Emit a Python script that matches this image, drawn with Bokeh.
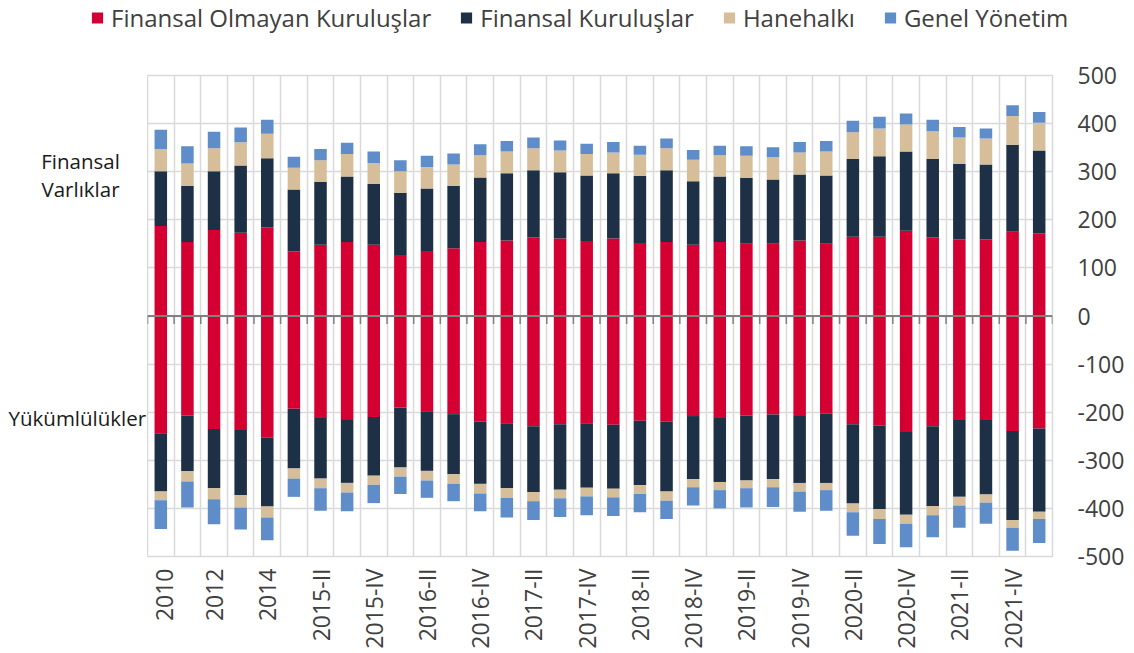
import math
from bokeh.plotting import figure
from bokeh.layouts import column, row
from bokeh.models import (Range1d, FixedTicker, Label, Legend, LegendItem,
                          ColumnDataSource, Span)
from bokeh.embed import file_html
from bokeh.resources import INLINE

periods = ["2010", "2011", "2012", "2013", "2014",
           "2015-I", "2015-II", "2015-III", "2015-IV",
           "2016-I", "2016-II", "2016-III", "2016-IV",
           "2017-I", "2017-II", "2017-III", "2017-IV",
           "2018-I", "2018-II", "2018-III", "2018-IV",
           "2019-I", "2019-II", "2019-III", "2019-IV",
           "2020-I", "2020-II", "2020-III", "2020-IV",
           "2021-I", "2021-II", "2021-III", "2021-IV",
           "2022-I"]

series_names = ["Finansal Olmayan Kuruluşlar", "Finansal Kuruluşlar", "Hanehalkı", "Genel Yönetim"]

# Financial assets (positive)
assets_nfc = [187, 154, 179, 173, 184, 134, 148, 154, 148, 127, 135, 141, 154, 157, 163, 161, 156,
              161, 152, 154, 148, 154, 150, 150, 157, 150, 165, 165, 177, 163, 159, 159, 175, 172]
assets_fin = [114, 117, 122, 140, 144, 129, 131, 136, 127, 129, 130, 130, 134, 140, 140, 138, 136,
              136, 139, 149, 132, 136, 137, 134, 137, 142, 162, 167, 165, 164, 157, 156, 181, 172]
assets_hh = [46, 46, 48, 48, 51, 45, 45, 47, 43, 45, 45, 44, 46, 45, 46, 45, 45,
             43, 44, 46, 45, 44, 46, 46, 46, 50, 55, 58, 56, 57, 55, 54, 60, 58]
assets_gov = [40, 36, 34, 31, 29, 23, 23, 23, 24, 23, 23, 23, 23, 22, 22, 21, 21,
              22, 19, 20, 20, 20, 20, 21, 22, 22, 24, 24, 23, 24, 22, 21, 22, 22]

# Liabilities (negative)
liab_nfc = [-244, -207, -235, -237, -253, -193, -212, -216, -210, -191, -198, -204, -220, -223, -229, -225, -223,
            -226, -218, -220, -208, -212, -207, -205, -208, -203, -225, -228, -241, -229, -216, -216, -239, -234]
liab_fin = [-121, -115, -123, -135, -143, -124, -126, -131, -122, -124, -124, -125, -129, -135, -137, -136, -134,
            -133, -134, -145, -131, -133, -135, -134, -139, -144, -165, -174, -172, -166, -160, -155, -185, -173]
liab_hh = [-18, -22, -23, -26, -23, -21, -20, -20, -19, -19, -20, -20, -20, -20, -19, -18, -18,
           -18, -18, -19, -17, -17, -16, -17, -18, -15, -18, -20, -19, -19, -18, -17, -16, -15]
liab_gov = [-60, -54, -52, -46, -47, -38, -47, -39, -38, -36, -36, -36, -37, -41, -39, -39, -39,
            -39, -38, -38, -38, -38, -40, -41, -42, -43, -49, -52, -49, -46, -46, -44, -48, -50]

y_ticks = [-500, -400, -300, -200, -100, 0, 100, 200, 300, 400, 500]
y_tick_labels = ["-500", "-400", "-300", "-200", "-100", "0", "100", "200", "300", "400", "500"]

colors = ["#D40032", "#1D3046", "#D6BE9A", "#5F8DC9"]
FONT = "Open Sans"
TXT = "#404040"
GRID = "#D9D9D9"

n = len(periods)
TOP_H = 34
FRAME_TOP = 41
FRAME_W = 905
FRAME_H = 481
LEFT_W = 147


def clean(fig):
    fig.background_fill_color = "white"
    fig.border_fill_color = "white"
    fig.outline_line_color = None
    fig.xgrid.visible = False
    fig.ygrid.visible = False


# ---------- legend strip ----------
top = figure(width=LEFT_W + FRAME_W + 75, height=TOP_H, x_range=Range1d(0, 1), y_range=Range1d(0, 1),
             x_axis_location=None, y_axis_location=None,
             output_backend="svg", toolbar_location=None,
             min_border_left=90, min_border_right=0, min_border_top=0, min_border_bottom=0)
clean(top)
# legend swatches (drawn outside the visible range, only used by the legend)
dummies = [top.vbar(x=[5], top=[5], bottom=[4], width=0.5, color=c, line_color=None) for c in colors]
legend = Legend(items=[LegendItem(label=nm, renderers=[r]) for nm, r in zip(series_names, dummies)],
                location="left", orientation="horizontal",
                glyph_width=14, glyph_height=14, label_standoff=7, spacing=28,
                padding=0, margin=0, border_line_color=None, background_fill_alpha=0,
                label_text_font=FONT, label_text_font_size="24px", label_text_color=TXT)
top.add_layout(legend)

# ---------- left annotation column ----------
left = figure(frame_width=LEFT_W, frame_height=FRAME_H, x_range=Range1d(0, LEFT_W), y_range=Range1d(-500, 500),
              x_axis_location=None, y_axis_location=None,
              output_backend="svg", toolbar_location=None,
              min_border_left=0, min_border_right=0, min_border_top=FRAME_TOP, min_border_bottom=0)
clean(left)
for txt, xx, yy, al in [("Finansal", 80, 323, "center"),
                        ("Varlıklar", 80, 265, "center"),
                        ("Yükümlülükler", 8, -213, "left")]:
    left.add_layout(Label(x=xx, y=yy, text=txt, text_font=FONT, text_font_size="20.5px",
                          text_color="#1a1a1a", text_align=al, text_baseline="middle"))

# ---------- main chart ----------
src = ColumnDataSource(dict(
    x=list(range(n)),
    a1=assets_nfc, a2=assets_fin, a3=assets_hh, a4=assets_gov,
    l1=liab_nfc, l2=liab_fin, l3=liab_hh, l4=liab_gov,
))

p = figure(frame_width=FRAME_W, frame_height=FRAME_H,
           x_range=Range1d(-0.5, n - 0.5), y_range=Range1d(-500, 500),
           y_axis_location="right", x_axis_location="below",
           output_backend="svg", toolbar_location=None,
           min_border_left=0, min_border_top=FRAME_TOP, min_border_right=0, min_border_bottom=0)
p.background_fill_color = "white"
p.border_fill_color = "white"
p.outline_line_color = GRID
p.outline_line_width = 1.5

p.vbar_stack(["a1", "a2", "a3", "a4"], x="x", width=0.47, color=colors, line_color=None, source=src)
p.vbar_stack(["l1", "l2", "l3", "l4"], x="x", width=0.47, color=colors, line_color=None, source=src)

bounds = [i - 0.5 for i in range(n + 1)]
p.xgrid.ticker = FixedTicker(ticks=bounds)
p.ygrid.ticker = FixedTicker(ticks=y_ticks)
for g in (p.xgrid[0], p.ygrid[0]):
    g.grid_line_color = GRID
    g.grid_line_width = 1.5

# zero line with separator ticks (8 px downward)
tick_len = 8 * 1000 / FRAME_H
p.segment(x0=bounds, y0=[0] * len(bounds), x1=bounds, y1=[-tick_len] * len(bounds),
          line_color="#808080", line_width=1.5)
p.add_layout(Span(location=0, dimension="width", line_color="#808080", line_width=2))

ya = p.yaxis[0]
ya.ticker = FixedTicker(ticks=y_ticks)
ya.major_label_overrides = dict(zip(y_ticks, y_tick_labels))
ya.axis_line_color = None
ya.major_tick_line_color = None
ya.minor_tick_line_color = None
ya.major_tick_out = 0
ya.major_tick_in = 0
ya.major_label_standoff = 25
ya.major_label_text_font = FONT
ya.major_label_text_font_size = "23px"
ya.major_label_text_color = TXT

xa = p.xaxis[0]
label_ticks = list(range(0, n - 1, 2))
xa.ticker = FixedTicker(ticks=label_ticks)
xa.major_label_overrides = {i: periods[i] for i in label_ticks}
xa.major_label_orientation = math.pi / 2
xa.axis_line_color = None
xa.major_tick_line_color = None
xa.minor_tick_line_color = None
xa.major_tick_out = 0
xa.major_tick_in = 0
xa.major_label_standoff = 12
xa.major_label_text_font = FONT
xa.major_label_text_font_size = "23px"
xa.major_label_text_color = TXT

layout = column(top, row(left, p, spacing=0), spacing=0)
open("out.html", "w").write(file_html(layout, INLINE))
